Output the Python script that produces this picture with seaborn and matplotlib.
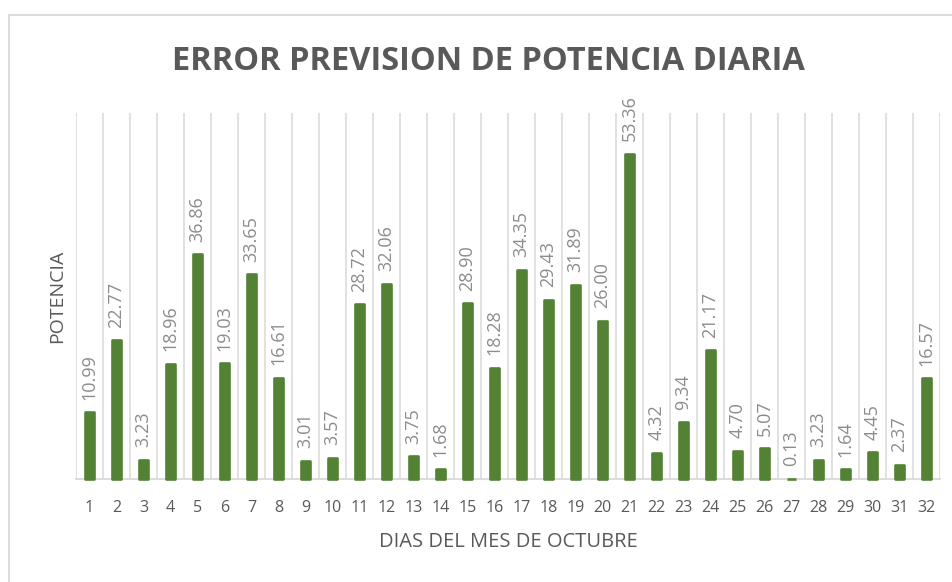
import matplotlib
matplotlib.use("Agg")
import matplotlib.pyplot as plt
from matplotlib.lines import Line2D
import seaborn as sns

# Daily forecast error for each day of October
dias = ["1", "2", "3", "4", "5", "6", "7", "8", "9", "10", "11", "12", "13", "14", "15", "16",
        "17", "18", "19", "20", "21", "22", "23", "24", "25", "26", "27", "28", "29", "30", "31", "32"]
potencia = [10.99, 22.77, 3.23, 18.96, 36.86, 19.03, 33.65, 16.61, 3.01, 3.57, 28.72, 32.06,
            3.75, 1.68, 28.90, 18.28, 34.35, 29.43, 31.89, 26.00, 53.36, 4.32, 9.34, 21.17,
            4.70, 5.07, 0.13, 3.23, 1.64, 4.45, 2.37, 16.57]

titulo = "ERROR PREVISION DE POTENCIA DIARIA"
etiqueta_x = "DIAS DEL MES DE OCTUBRE"
etiqueta_y = "POTENCIA"

VERDE = "#548235"
GRIS_TEXTO = "#595959"
GRIS_ETIQUETA = "#8c8c8c"
GRIS_LINEA = "#d9d9d9"

sns.set_theme(style="white")
plt.rcParams["font.family"] = ["Open Sans", "DejaVu Sans"]

fig = plt.figure(figsize=(9.53, 5.82), dpi=100)
ax = fig.add_axes([76 / 953, 1 - 479.3 / 582, 864 / 953, 366 / 582])

# vertical separators between days
ax.vlines([i - 0.5 for i in range(len(dias) + 1)], 0, 60, color=GRIS_LINEA, lw=1.1, zorder=0)

sns.barplot(x=dias, y=potencia, color=VERDE, saturation=1, width=0.32, ax=ax, zorder=2)
for p in ax.patches:
    p.set_edgecolor(VERDE)
    p.set_linewidth(1.9)
    p.set_joinstyle("round")
    p.set_clip_on(False)

ax.bar_label(ax.containers[0], fmt="%.2f", rotation=90, padding=9,
             color=GRIS_ETIQUETA, fontsize=13)

ax.set_xlim(-0.5, len(dias) - 0.5)
ax.set_ylim(0, 60)
ax.set_yticks([])
for s in ["left", "right", "top"]:
    ax.spines[s].set_visible(False)
ax.spines["bottom"].set_color(GRIS_LINEA)
ax.spines["bottom"].set_linewidth(1.3)
ax.spines["bottom"].set_zorder(1)
ax.tick_params(axis="x", length=0, pad=15, labelsize=11.5, labelcolor=GRIS_TEXTO)

ax.set_xlabel(etiqueta_x, fontsize=14.5, color=GRIS_TEXTO)
ax.xaxis.set_label_coords(0.5, -0.145)
ax.set_ylabel(etiqueta_y, fontsize=14, color=GRIS_TEXTO)
ax.yaxis.set_label_coords(-0.012, 0.5)

fig.text(488 / 953, 1 - 70 / 582, titulo, ha="center", va="baseline",
         fontsize=23.5, fontweight="bold", color=GRIS_TEXTO)

# chart frame
fig.add_artist(Line2D([9 / 953, 1], [1 - 15 / 582, 1 - 15 / 582], transform=fig.transFigure,
                      color=GRIS_LINEA, lw=1.3))
fig.add_artist(Line2D([9 / 953, 9 / 953], [0, 1 - 15 / 582], transform=fig.transFigure,
                      color=GRIS_LINEA, lw=1.3))

fig.savefig("out.png", dpi=100)
